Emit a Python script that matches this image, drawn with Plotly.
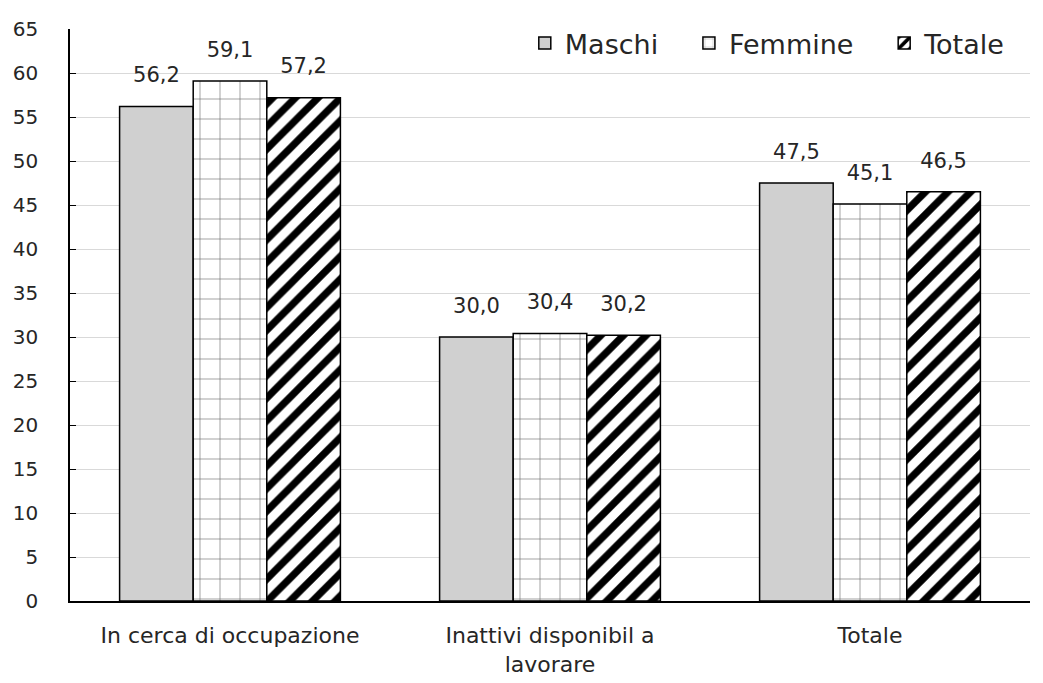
import plotly.graph_objects as go

# Dati
categorie = ["In cerca di occupazione", "Inattivi disponibil a<br>lavorare", "Totale"]
maschi = [56.2, 30.0, 47.5]
femmine = [59.1, 30.4, 45.1]
totale = [57.2, 30.2, 46.5]

FONT = "DejaVu Sans"
TESTO = "#262626"
SPAZIO = "\u00a0" * 3  # distanza tra le voci della legenda

def etichette(vals):
    # riga vuota (piccola) sotto per staccare l'etichetta dalla barra
    return [f"<span style='font-size:21px'>{v:.1f}</span>".replace(".", ",") + "<br> " for v in vals]

fig = go.Figure()

fig.add_trace(go.Bar(
    name="Maschi" + SPAZIO, x=categorie, y=maschi,
    text=etichette(maschi), textposition="outside",
    marker=dict(color="#d0d0d0", line=dict(color="black", width=1.5)),
))
fig.add_trace(go.Bar(
    name="Femmine" + SPAZIO, x=categorie, y=femmine,
    text=etichette(femmine), textposition="outside",
    marker=dict(
        color="white",
        line=dict(color="black", width=1.5),
        pattern=dict(shape="+", fgcolor="#666666", bgcolor="white", size=20,
                     solidity=0.06, fillmode="replace", fgopacity=1),
    ),
))
fig.add_trace(go.Bar(
    name="Totale", x=categorie, y=totale,
    text=etichette(totale), textposition="outside",
    marker=dict(
        color="white",
        line=dict(color="black", width=1.5),
        pattern=dict(shape="/", fgcolor="black", bgcolor="white", size=16,
                     solidity=0.45, fillmode="replace", fgopacity=1),
    ),
))

fig.update_traces(textfont=dict(family=FONT, size=14, color=TESTO), cliponaxis=False)

fig.update_layout(
    width=1043, height=683,
    margin=dict(l=62, r=21, t=20, b=90),
    paper_bgcolor="white", plot_bgcolor="white",
    barmode="group", bargap=0.31, bargroupgap=0,
    font=dict(family=FONT, size=20, color=TESTO),
    showlegend=True,
    legend=dict(
        orientation="h", x=0.98, xanchor="right", y=0.973, yanchor="middle",
        font=dict(family=FONT, size=27, color=TESTO),
        bgcolor="rgba(255,255,255,0)", itemwidth=30,
    ),
    xaxis=dict(
        showline=True, linecolor="black", linewidth=1.5, automargin=False,
        tickfont=dict(family=FONT, size=22, color=TESTO), ticks="",
        ticklabelstandoff=14,
    ),
    yaxis=dict(
        range=[0, 65], dtick=5, showline=True, linecolor="black", linewidth=1.5,
        showgrid=True, gridcolor="#d9d9d9", gridwidth=1, automargin=False,
        ticks="inside", ticklen=6, tickcolor="black",
        tickfont=dict(family=FONT, size=20, color=TESTO), zeroline=False,
        ticklabelstandoff=26,
    ),
)

fig.write_html("out.html")
